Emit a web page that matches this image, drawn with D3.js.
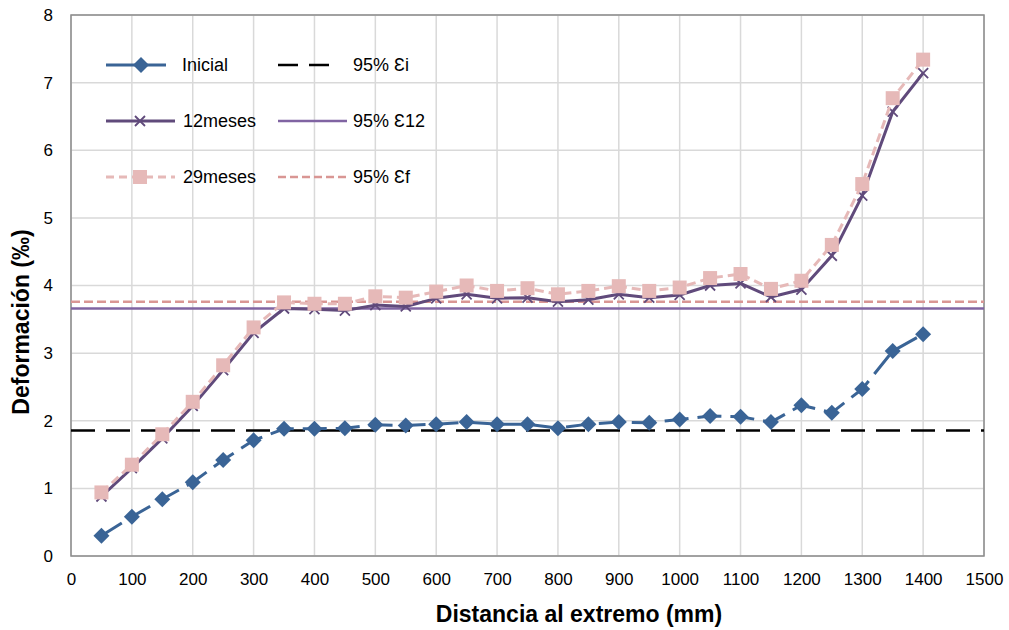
<!DOCTYPE html>
<html>
<head>
<meta charset="utf-8">
<script src="https://cdn.jsdelivr.net/npm/d3@7"></script>
<style>
  html, body { margin: 0; padding: 0; background: #fff; }
  svg { display: block; font-family: "Liberation Sans", Arial, sans-serif; }
</style>
</head>
<body>
<svg id="chart" width="1009" height="630"></svg>
<script>
// ---- Data ----
const distances = [50,100,150,200,250,300,350,400,450,500,550,600,650,700,750,800,850,900,950,1000,1050,1100,1150,1200,1250,1300,1350,1400];
const inicial = [0.30,0.58,0.84,1.09,1.42,1.71,1.88,1.88,1.89,1.94,1.93,1.95,1.98,1.95,1.95,1.89,1.95,1.98,1.97,2.02,2.07,2.06,1.98,2.23,2.12,2.47,3.03,3.28];
const meses12 = [0.88,1.30,1.74,2.22,2.75,3.30,3.66,3.65,3.63,3.71,3.69,3.81,3.87,3.81,3.82,3.76,3.79,3.87,3.82,3.86,4.00,4.03,3.83,3.94,4.44,5.33,6.57,7.14];
const meses29 = [0.94,1.35,1.80,2.28,2.82,3.38,3.75,3.73,3.73,3.84,3.82,3.91,4.00,3.92,3.96,3.87,3.92,3.99,3.92,3.97,4.11,4.17,3.95,4.07,4.60,5.50,6.77,7.34];
const refLevels = [1.855, 3.66, 3.76];           // 95% Ɛi, 95% Ɛ12, 95% Ɛf
const refNames = ["95% Ɛi", "95% Ɛ12", "95% Ɛf"];
const seriesNames = ["Inicial", "12meses", "29meses"];
const xTicks = [0,100,200,300,400,500,600,700,800,900,1000,1100,1200,1300,1400,1500];
const yTicks = [0,1,2,3,4,5,6,7,8];
const xTitle = "Distancia al extremo (mm)";
const yTitle = "Deformación (‰)";

// ---- Layout ----
const svg = d3.select("#chart");
const L = 71, R = 984, T = 15, B = 556;
const x = d3.scaleLinear().domain([0,1500]).range([L,R]);
const y = d3.scaleLinear().domain([0,8]).range([B,T]);

// gridlines
const grid = svg.append("g");
grid.selectAll(".vg").data(xTicks).join("line")
  .attr("x1", d=>x(d)).attr("x2", d=>x(d)).attr("y1", T).attr("y2", B)
  .attr("stroke", "#D9D9D9").attr("stroke-width", 1.5);
grid.selectAll(".hg").data(yTicks).join("line")
  .attr("x1", L).attr("x2", R).attr("y1", d=>y(d)).attr("y2", d=>y(d))
  .attr("stroke", "#D9D9D9").attr("stroke-width", 1.5);

// axes (labels only, via d3 axis)
const xAxis = svg.append("g").attr("transform", `translate(0,${B})`)
  .call(d3.axisBottom(x).tickValues(xTicks).tickSize(0).tickPadding(17).tickFormat(d3.format("d")));
const yAxis = svg.append("g").attr("transform", `translate(${L},0)`)
  .call(d3.axisLeft(y).tickValues(yTicks).tickSize(0).tickPadding(18).tickFormat(d3.format("d")));
[xAxis, yAxis].forEach(a => {
  a.select(".domain").remove();
  a.selectAll("text").attr("font-size", 17).attr("fill", "#000")
    .attr("font-family", "'Liberation Sans', Arial, sans-serif");
});

// plot border
svg.append("rect").attr("x", L).attr("y", T).attr("width", R-L).attr("height", B-T)
  .attr("fill", "none").attr("stroke", "#8C8C8C").attr("stroke-width", 1.5);

// reference lines
const refStyles = [
  {color:"#000000", width:2.6, dash:"24,11"},
  {color:"#8064A2", width:2.6, dash:null},
  {color:"#D99694", width:2.6, dash:"9,4"}
];
refLevels.forEach((v,i) => {
  const s = refStyles[i];
  svg.append("line").attr("x1", x(0)).attr("x2", x(1500)).attr("y1", y(v)).attr("y2", y(v))
    .attr("stroke", s.color).attr("stroke-width", s.width)
    .attr("stroke-dasharray", s.dash);
});

// series
const line = d3.line().x(d=>x(d[0])).y(d=>y(d[1]));
const seriesStyles = [
  {color:"#3A6496", width:3, dash:"24,9", marker:"diamond"},
  {color:"#604A7B", width:3, dash:null, marker:"x"},
  {color:"#E6B9B8", width:3, dash:"9,5", marker:"square"}
];
const seriesData = [inicial, meses12, meses29];

function drawMarker(g, type, cx, cy, color) {
  if (type === "diamond") {
    g.append("path").attr("d", `M${cx},${cy-8}L${cx+8},${cy}L${cx},${cy+8}L${cx-8},${cy}Z`).attr("fill", color);
  } else if (type === "square") {
    g.append("rect").attr("x", cx-7).attr("y", cy-7).attr("width", 14).attr("height", 14).attr("fill", color);
  } else if (type === "x") {
    g.append("path").attr("d", `M${cx-5},${cy-5}L${cx+5},${cy+5}M${cx-5},${cy+5}L${cx+5},${cy-5}`)
      .attr("stroke", color).attr("stroke-width", 1.8).attr("fill", "none");
  }
}

seriesData.forEach((vals, i) => {
  const s = seriesStyles[i];
  const pts = distances.map((d,k)=>[d, vals[k]]);
  const g = svg.append("g");
  g.append("path").datum(pts).attr("d", line).attr("fill", "none")
    .attr("stroke", s.color).attr("stroke-width", s.width)
    .attr("stroke-dasharray", s.dash).attr("stroke-linejoin", "round");
  pts.forEach(p => drawMarker(g, s.marker, x(p[0]), y(p[1]), s.color));
});

// legend
const legRows = [65, 121, 177];
const leg = svg.append("g");
seriesNames.forEach((name, i) => {
  const s = seriesStyles[i];
  const yy = legRows[i];
  const x2 = i === 0 ? 166 : 175;
  leg.append("line").attr("x1", 106).attr("x2", x2).attr("y1", yy).attr("y2", yy)
    .attr("stroke", s.color).attr("stroke-width", s.width)
    .attr("stroke-dasharray", i === 2 ? "8,5" : null);
  drawMarker(leg, s.marker, i === 0 ? 141 : 140, yy, s.color);
  leg.append("text").attr("x", i === 0 ? 182 : 183).attr("y", yy).attr("dy", "0.36em")
    .attr("font-size", 18).text(name);
});
refNames.forEach((name, i) => {
  const s = refStyles[i];
  const yy = legRows[i];
  const x2 = i === 0 ? 337 : 347;
  leg.append("line").attr("x1", 278).attr("x2", x2).attr("y1", yy).attr("y2", yy)
    .attr("stroke", s.color).attr("stroke-width", s.width)
    .attr("stroke-dasharray", i === 0 ? "20,11" : (i === 2 ? "8,4" : null));
  leg.append("text").attr("x", 353).attr("y", yy).attr("dy", "0.36em")
    .attr("font-size", 18).text(name);
});

// axis titles
svg.append("text").attr("x", 579).attr("y", 614).attr("dy", "0.36em")
  .attr("text-anchor", "middle").attr("font-size", 23).attr("font-weight", "bold").text(xTitle);
svg.append("text").attr("transform", "translate(21,322) rotate(-90)").attr("dy", "0.36em")
  .attr("text-anchor", "middle").attr("font-size", 23).attr("font-weight", "bold").text(yTitle);
</script>
</body>
</html>
